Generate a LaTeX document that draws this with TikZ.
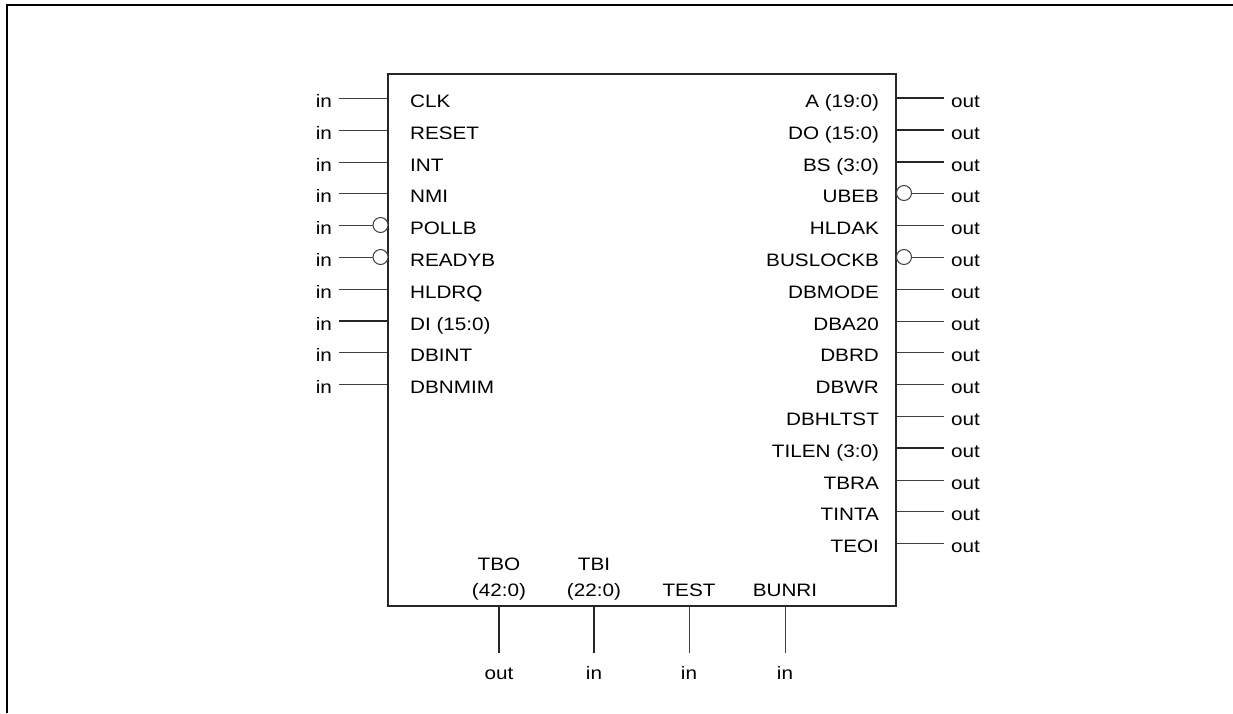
\documentclass[tikz,border=0pt]{standalone}
\usepackage{fontspec}
\setmainfont{Liberation Sans}[FakeStretch=1.15]
\begin{document}
\begin{tikzpicture}[
    x=0.5pt, y=-0.5pt,
    font=\fontsize{9pt}{13pt}\selectfont,
    chip/.style={rectangle, draw=black!85, line width=1pt,
                 minimum width=254pt, minimum height=266pt, inner sep=0pt},
    sig/.style={text height=1.1em, text depth=.16em, inner ysep=2pt},
    pin/.style={line width=.5pt, black!75},
    bus/.style={line width=1.3pt, black!85},
    bub/.style={circle, draw=black!75, line width=.5pt, fill=white,
                minimum size=7.5pt, inner sep=0pt},
    top/.style={anchor=south, align=center, inner sep=0pt, text depth=0pt},
    frame/.style={line width=1.3pt, black}
]
\useasboundingbox (0,0) rectangle (1233,713);
\draw[frame] (6.8,713) -- (6.8,4.8) -- (1233,4.8);

\node[chip] (cpu) at (642,340) {};

% left side
\node[sig, anchor=west] (l1) at (403,98) {CLK};
\node[sig, anchor=west] (l2) at (403,130) {RESET};
\node[sig, anchor=west] (l3) at (403,162) {INT};
\node[sig, anchor=west] (l4) at (403,193) {NMI};
\node[sig, anchor=west] (l5) at (403,225) {POLLB};
\node[sig, anchor=west] (l6) at (403,257) {READYB};
\node[sig, anchor=west] (l7) at (403,289) {HLDRQ};
\node[sig, anchor=west] (l8) at (403,321) {DI (15:0)};
\node[sig, anchor=west] (l9) at (403,352) {DBINT};
\node[sig, anchor=west] (l10) at (403,384) {DBNMIM};

\node[sig, anchor=east] (i1) at (339,98) {in};
\node[sig, anchor=east] (i2) at (339,130) {in};
\node[sig, anchor=east] (i3) at (339,162) {in};
\node[sig, anchor=east] (i4) at (339,193) {in};
\node[sig, anchor=east] (i5) at (339,225) {in};
\node[sig, anchor=east] (i6) at (339,257) {in};
\node[sig, anchor=east] (i7) at (339,289) {in};
\node[sig, anchor=east] (i8) at (339,321) {in};
\node[sig, anchor=east] (i9) at (339,352) {in};
\node[sig, anchor=east] (i10) at (339,384) {in};

\node[bub] (n5) at (380.5,225) {};
\node[bub] (n6) at (380.5,257) {};

\draw[pin] (i1) -- (i1 -| cpu.west);
\draw[pin] (i2) -- (i2 -| cpu.west);
\draw[pin] (i3) -- (i3 -| cpu.west);
\draw[pin] (i4) -- (i4 -| cpu.west);
\draw[pin] (i5) -- (n5);
\draw[pin] (i6) -- (n6);
\draw[pin] (i7) -- (i7 -| cpu.west);
\draw[bus] (i8) -- (i8 -| cpu.west);
\draw[pin] (i9) -- (i9 -| cpu.west);
\draw[pin] (i10) -- (i10 -| cpu.west);

% right side
\node[sig, anchor=east] (r1) at (886,98) {A (19:0)};
\node[sig, anchor=east] (r2) at (886,130) {DO (15:0)};
\node[sig, anchor=east] (r3) at (886,162) {BS (3:0)};
\node[sig, anchor=east] (r4) at (886,193) {UBEB};
\node[sig, anchor=east] (r5) at (886,225) {HLDAK};
\node[sig, anchor=east] (r6) at (886,257) {BUSLOCKB};
\node[sig, anchor=east] (r7) at (886,289) {DBMODE};
\node[sig, anchor=east] (r8) at (886,321) {DBA20};
\node[sig, anchor=east] (r9) at (886,352) {DBRD};
\node[sig, anchor=east] (r10) at (886,384) {DBWR};
\node[sig, anchor=east] (r11) at (886,416) {DBHLTST};
\node[sig, anchor=east] (r12) at (886,448) {TILEN (3:0)};
\node[sig, anchor=east] (r13) at (886,480) {TBRA};
\node[sig, anchor=east] (r14) at (886,511) {TINTA};
\node[sig, anchor=east] (r15) at (886,543) {TEOI};

\node[sig, anchor=west] (o1) at (944,98) {out};
\node[sig, anchor=west] (o2) at (944,130) {out};
\node[sig, anchor=west] (o3) at (944,162) {out};
\node[sig, anchor=west] (o4) at (944,193) {out};
\node[sig, anchor=west] (o5) at (944,225) {out};
\node[sig, anchor=west] (o6) at (944,257) {out};
\node[sig, anchor=west] (o7) at (944,289) {out};
\node[sig, anchor=west] (o8) at (944,321) {out};
\node[sig, anchor=west] (o9) at (944,352) {out};
\node[sig, anchor=west] (o10) at (944,384) {out};
\node[sig, anchor=west] (o11) at (944,416) {out};
\node[sig, anchor=west] (o12) at (944,448) {out};
\node[sig, anchor=west] (o13) at (944,480) {out};
\node[sig, anchor=west] (o14) at (944,511) {out};
\node[sig, anchor=west] (o15) at (944,543) {out};

\node[bub] (n4) at (904,193) {};
\node[bub] (n6r) at (904,257) {};

\draw[bus] (o1 -| cpu.east) -- (o1);
\draw[bus] (o2 -| cpu.east) -- (o2);
\draw[bus] (o3 -| cpu.east) -- (o3);
\draw[pin] (n4) -- (o4);
\draw[pin] (o5 -| cpu.east) -- (o5);
\draw[pin] (n6r) -- (o6);
\draw[pin] (o7 -| cpu.east) -- (o7);
\draw[pin] (o8 -| cpu.east) -- (o8);
\draw[pin] (o9 -| cpu.east) -- (o9);
\draw[pin] (o10 -| cpu.east) -- (o10);
\draw[pin] (o11 -| cpu.east) -- (o11);
\draw[bus] (o12 -| cpu.east) -- (o12);
\draw[pin] (o13 -| cpu.east) -- (o13);
\draw[pin] (o14 -| cpu.east) -- (o14);
\draw[pin] (o15 -| cpu.east) -- (o15);

% bottom side
\node[top] (t1) at (499,597) {TBO\\(42:0)};
\node[top] (t2) at (594,597) {TBI\\(22:0)};
\node[top] (t3) at (689,597) {TEST};
\node[top] (t4) at (785,597) {BUNRI};

\node[sig, anchor=base] (b1) at (499,679) {out};
\node[sig, anchor=base] (b2) at (594,679) {in};
\node[sig, anchor=base] (b3) at (689,679) {in};
\node[sig, anchor=base] (b4) at (785,679) {in};

\draw[bus] (cpu.south -| b1) -- (b1);
\draw[bus] (cpu.south -| b2) -- (b2);
\draw[pin] (cpu.south -| b3) -- (b3);
\draw[pin] (cpu.south -| b4) -- (b4);
\end{tikzpicture}
\end{document}
